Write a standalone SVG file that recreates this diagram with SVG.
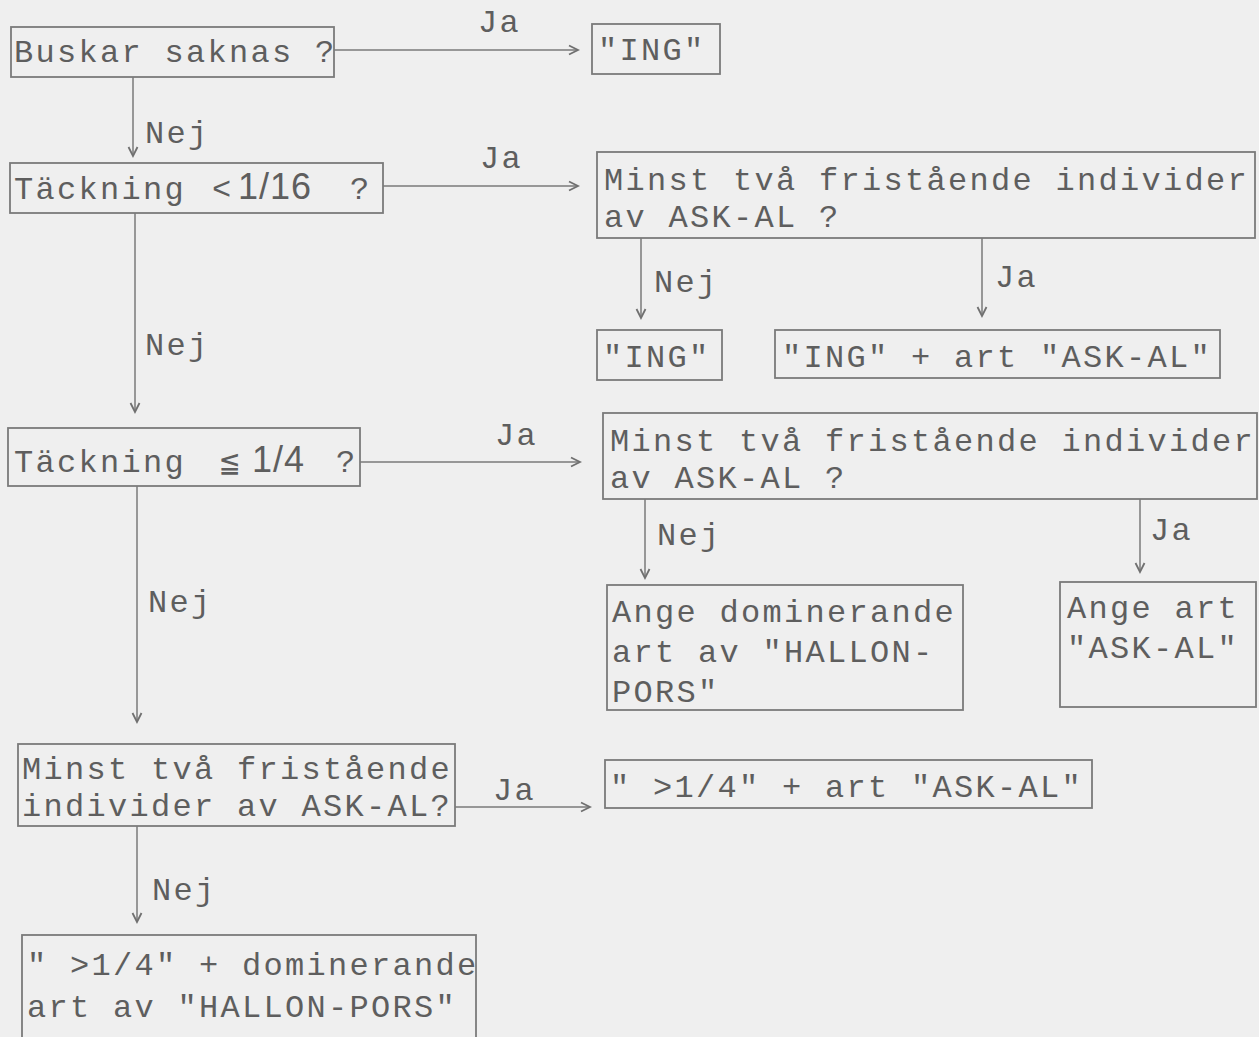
<svg xmlns="http://www.w3.org/2000/svg" width="1259" height="1037" viewBox="0 0 1259 1037">
<defs>
<marker id="arr" markerWidth="14" markerHeight="12" refX="12" refY="6" orient="auto" markerUnits="userSpaceOnUse">
<path d="M3,1.5 L12,6 L3,10.5" fill="none" stroke="#707070" stroke-width="1.8"/>
</marker>
<style>
.bg{fill:#efefef}
.box{fill:none;stroke:#7a7a7a;stroke-width:1.8}
.t{font-family:"Liberation Mono","DejaVu Sans Mono",monospace;font-size:32px;letter-spacing:2.3px;fill:#5e5e5e;white-space:pre}
.s{font-family:"Liberation Sans","DejaVu Sans",sans-serif;font-size:36px;letter-spacing:1px}
.c{fill:none;stroke:#7a7a7a;stroke-width:1.5;marker-end:url(#arr)}
</style>
</defs>
<rect class="bg" x="0" y="0" width="1259" height="1037"/>
<g id="connectors">
<path class="c" d="M334,50 H578"/>
<path class="c" d="M133,77 V156"/>
<path class="c" d="M383,186 H578"/>
<path class="c" d="M641,238 V318"/>
<path class="c" d="M982,238 V316"/>
<path class="c" d="M135,213 V412"/>
<path class="c" d="M360,462 H580"/>
<path class="c" d="M645,499 V578"/>
<path class="c" d="M1140,499 V572"/>
<path class="c" d="M137,486 V722"/>
<path class="c" d="M455,807 H590"/>
<path class="c" d="M137,826 V922"/>
<text class="t" x="478" y="32">Ja</text>
<text class="t" x="145" y="143">Nej</text>
<text class="t" x="480" y="168">Ja</text>
<text class="t" x="654" y="292">Nej</text>
<text class="t" x="995" y="287">Ja</text>
<text class="t" x="145" y="355">Nej</text>
<text class="t" x="495" y="445">Ja</text>
<text class="t" x="657" y="545">Nej</text>
<text class="t" x="1150" y="540">Ja</text>
<text class="t" x="148" y="612">Nej</text>
<text class="t" x="493" y="800">Ja</text>
<text class="t" x="152" y="900">Nej</text>
</g>
<g id="n1"><rect class="box" x="11" y="27" width="323" height="50"/><text class="t" x="14" y="62">Buskar saknas ?</text></g>
<g id="n2"><rect class="box" x="592" y="24" width="128" height="50"/><text class="t" x="598" y="60">"ING"</text></g>
<g id="n3"><rect class="box" x="10" y="163" width="373" height="50"/><text class="t" x="14" y="199">Täckning<tspan x="212">&lt;</tspan><tspan class="s" x="238">1/16</tspan><tspan x="350">?</tspan></text></g>
<g id="n4"><rect class="box" x="597" y="152" width="658" height="86"/><text class="t" x="604" y="190">Minst två fristående individer</text><text class="t" x="604" y="227">av ASK-AL ?</text></g>
<g id="n5"><rect class="box" x="597" y="330" width="125" height="50"/><text class="t" x="603" y="367">"ING"</text></g>
<g id="n6"><rect class="box" x="775" y="330" width="445" height="48"/><text class="t" x="782" y="367">"ING" + art "ASK-AL"</text></g>
<g id="n7"><rect class="box" x="8" y="428" width="352" height="58"/><text class="t" x="14" y="472">Täckning<tspan x="220">≦</tspan><tspan class="s" x="252">1/4</tspan><tspan x="336">?</tspan></text></g>
<g id="n8"><rect class="box" x="603" y="413" width="654" height="86"/><text class="t" x="610" y="451">Minst två fristående individer</text><text class="t" x="610" y="488">av ASK-AL ?</text></g>
<g id="n9"><rect class="box" x="607" y="585" width="356" height="125"/><text class="t" x="612" y="622">Ange dominerande</text><text class="t" x="612" y="662">art av "HALLON-</text><text class="t" x="612" y="702">PORS"</text></g>
<g id="n10"><rect class="box" x="1060" y="582" width="196" height="125"/><text class="t" x="1067" y="618">Ange art</text><text class="t" x="1067" y="658">"ASK-AL"</text></g>
<g id="n11"><rect class="box" x="18" y="744" width="437" height="82"/><text class="t" x="22" y="779">Minst två fristående</text><text class="t" x="22" y="816">individer av ASK-AL?</text></g>
<g id="n12"><rect class="box" x="605" y="760" width="487" height="48"/><text class="t" x="610" y="797">" &gt;1/4" + art "ASK-AL"</text></g>
<g id="n13"><rect class="box" x="22" y="935" width="454" height="110"/><text class="t" x="27" y="975">" &gt;1/4" + dominerande</text><text class="t" x="27" y="1017">art av "HALLON-PORS"</text></g>
</svg>
